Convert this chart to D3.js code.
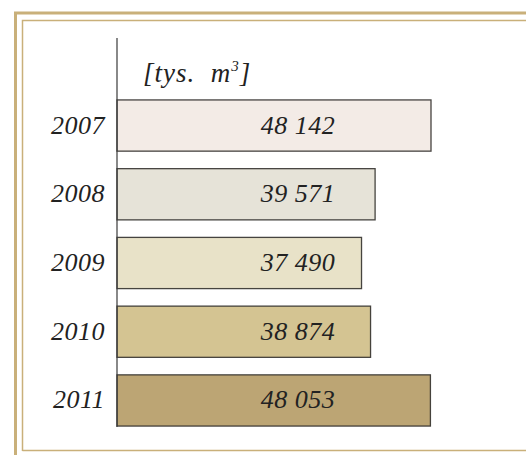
<!DOCTYPE html>
<html><head><meta charset="utf-8">
<script src="https://cdn.jsdelivr.net/npm/d3@7"></script>
<style>body{margin:0;background:#fff}svg{display:block}</style>
</head><body>
<svg id="c" width="526" height="455"></svg>
<script>
const years = ["2007","2008","2009","2010","2011"];
const values = [48142, 39571, 37490, 38874, 48053];
const valueLabels = ["48 142","39 571","37 490","38 874","48 053"];
const fills = ["#f3ebe6","#e6e3d8","#e8e2c8","#d4c492","#bca574"];
const unitLabel = "[tys.  m";

const svg = d3.select("#c");
const gold = "#c9b07a";
// frame
svg.append("path").attr("d","M15.5,455 V13 H526").attr("fill","none").attr("stroke",gold).attr("stroke-width",3);
svg.append("path").attr("d","M22.5,451 V20.5 H526 M22.5,450.5 H526").attr("fill","none").attr("stroke",gold).attr("stroke-width",1.5);

const x = d3.scaleLinear().domain([0, 48142]).range([117, 431]);
const y = d3.scaleBand().domain(years).range([91, 435]).paddingInner(0.255).paddingOuter(0.13);

const font = "'Liberation Serif','DejaVu Serif',serif";

svg.selectAll("rect.bar").data(years).join("rect").attr("class","bar")
  .attr("x", x(0)).attr("y", d => y(d))
  .attr("width", (d,i) => x(values[i]) - x(0)).attr("height", y.bandwidth())
  .attr("fill", (d,i) => fills[i])
  .attr("stroke","#33312d").attr("stroke-width",1.3).attr("stroke-opacity",0.9);

// axis line
svg.append("line").attr("x1",117).attr("x2",117).attr("y1",38).attr("y2",427)
  .attr("stroke","#3a3a3a").attr("stroke-width",1.2);

svg.selectAll("text.val").data(years).join("text").attr("class","val")
  .attr("x",298).attr("y", d => y(d) + y.bandwidth()/2 + 8)
  .attr("text-anchor","middle").attr("font-family",font).attr("font-style","italic")
  .attr("font-size",26).attr("letter-spacing",0.5).attr("fill","#222")
  .style("white-space","pre").text((d,i) => valueLabels[i]);

svg.selectAll("text.yr").data(years).join("text").attr("class","yr")
  .attr("x",105).attr("y", d => y(d) + y.bandwidth()/2 + 8)
  .attr("text-anchor","end").attr("font-family",font).attr("font-style","italic")
  .attr("font-size",26).attr("letter-spacing",0.5).attr("fill","#222").text(d => d);

const u = svg.append("text").attr("x",143).attr("y",82).attr("font-family",font)
  .attr("font-style","italic").attr("font-size",27).attr("letter-spacing",1).attr("fill","#222")
  .style("white-space","pre");
u.append("tspan").text(unitLabel);
u.append("tspan").attr("font-size",15).attr("dy",-11).text("3");
u.append("tspan").attr("dy",11).text("]");
</script>
</body></html>
